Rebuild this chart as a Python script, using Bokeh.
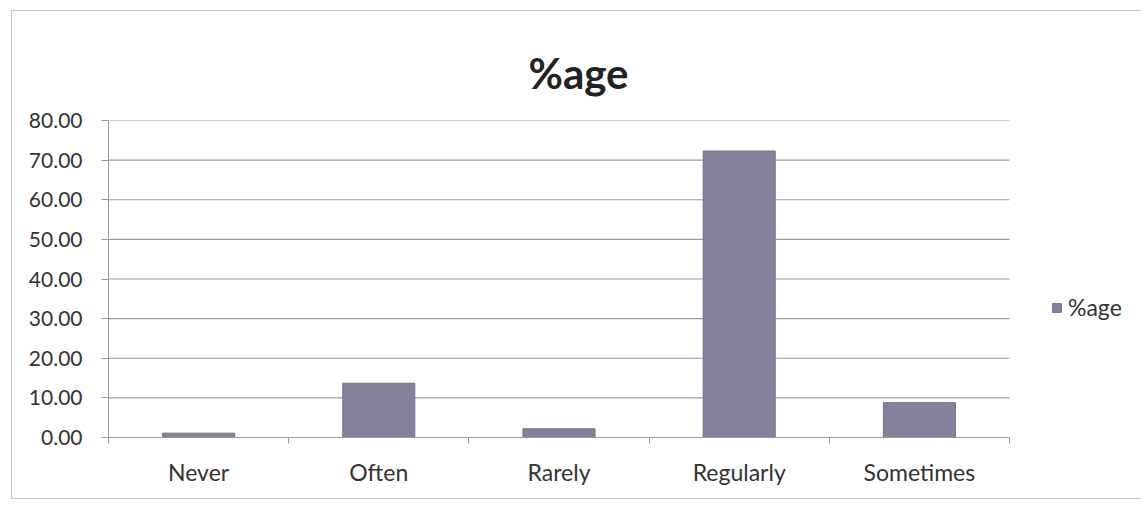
from bokeh.plotting import figure
from bokeh.models import (Range1d, FixedTicker, NumeralTickFormatter, Legend, LegendItem,
                          ColumnDataSource)
from bokeh.embed import file_html
from bokeh.resources import INLINE

categories = ["Never", "Often", "Rarely", "Regularly", "Sometimes"]
values = [1.1, 13.7, 2.2, 72.3, 8.8]
series_name = "%age"
y_ticks = [0, 10, 20, 30, 40, 50, 60, 70, 80]

FONT = "Lato"
n = len(categories)
positions = [i + 0.5 for i in range(n)]
src = ColumnDataSource(dict(x=positions, top=values, cat=categories))

PLOT_W = 901       # width of the category area in px
FRAME_W = 1034     # frame extended to the right to host the legend
x_end = n * FRAME_W / PLOT_W

p = figure(width=1130, height=487, frame_width=FRAME_W, frame_height=317,
           output_backend="svg", toolbar_location=None,
           x_range=Range1d(0, x_end), y_range=Range1d(0, 80),
           min_border_left=96, min_border_right=0, min_border_top=109, min_border_bottom=61,
           title=series_name)
p.styles = {"margin-left": "11px", "margin-top": "10px",
            "border-left": "1px solid #c4c4c4", "border-top": "1px solid #c4c4c4",
            "border-bottom": "1px solid #c4c4c4"}
p.background_fill_color = "#ffffff"
p.border_fill_color = "#ffffff"
p.outline_line_color = None

p.title.align = "left"
p.title.offset = 420
p.title.standoff = 46
p.title.text_font = FONT
p.title.text_font_style = "bold"
p.title.text_font_size = "42px"
p.title.text_color = "#222222"

# horizontal gridlines limited to the category area
p.segment(x0=[0] * len(y_ticks), x1=[n] * len(y_ticks), y0=y_ticks, y1=y_ticks,
          line_color="#9c9cab", line_width=1.2)

r = p.vbar(x="x", top="top", width=0.4, bottom=0, source=src,
           fill_color="#86819a", line_color="#77738a", line_width=1)

# x axis: labels at centres, tick marks at category boundaries
p.xaxis.bounds = (0, n)
p.xaxis.ticker = FixedTicker(ticks=positions, minor_ticks=list(range(n + 1)))
p.xaxis.major_label_overrides = {pos: c for pos, c in zip(positions, categories)}
p.xaxis.major_tick_in = 0
p.xaxis.major_tick_out = 0
p.xaxis.minor_tick_in = 0
p.xaxis.minor_tick_out = 6
p.xaxis.minor_tick_line_color = "#9a9a9a"
p.xaxis.axis_line_color = "#9a9a9a"
p.xaxis.major_label_standoff = 14
p.xaxis.major_label_text_font = FONT
p.xaxis.major_label_text_font_size = "23px"
p.xaxis.major_label_text_color = "#333333"
p.xgrid.grid_line_color = None
p.ygrid.grid_line_color = None

p.yaxis.ticker = FixedTicker(ticks=y_ticks)
p.yaxis.formatter = NumeralTickFormatter(format="0.00")
p.yaxis.major_tick_in = 0
p.yaxis.major_tick_out = 7
p.yaxis.minor_tick_line_color = None
p.yaxis.major_tick_line_color = "#9a9a9a"
p.yaxis.axis_line_color = "#9a9a9a"
p.yaxis.major_label_standoff = 19
p.yaxis.major_label_text_font = FONT
p.yaxis.major_label_text_font_size = "21px"
p.yaxis.major_label_text_color = "#333333"

legend = Legend(items=[LegendItem(label=series_name, renderers=[r])],
                location=(943, 116), border_line_color=None, background_fill_alpha=0,
                label_text_font=FONT, label_text_font_size="23px", label_text_color="#333333",
                glyph_width=11, glyph_height=11, label_standoff=6, margin=0, padding=2)
p.add_layout(legend)

open("out.html", "w").write(file_html(p, INLINE))
